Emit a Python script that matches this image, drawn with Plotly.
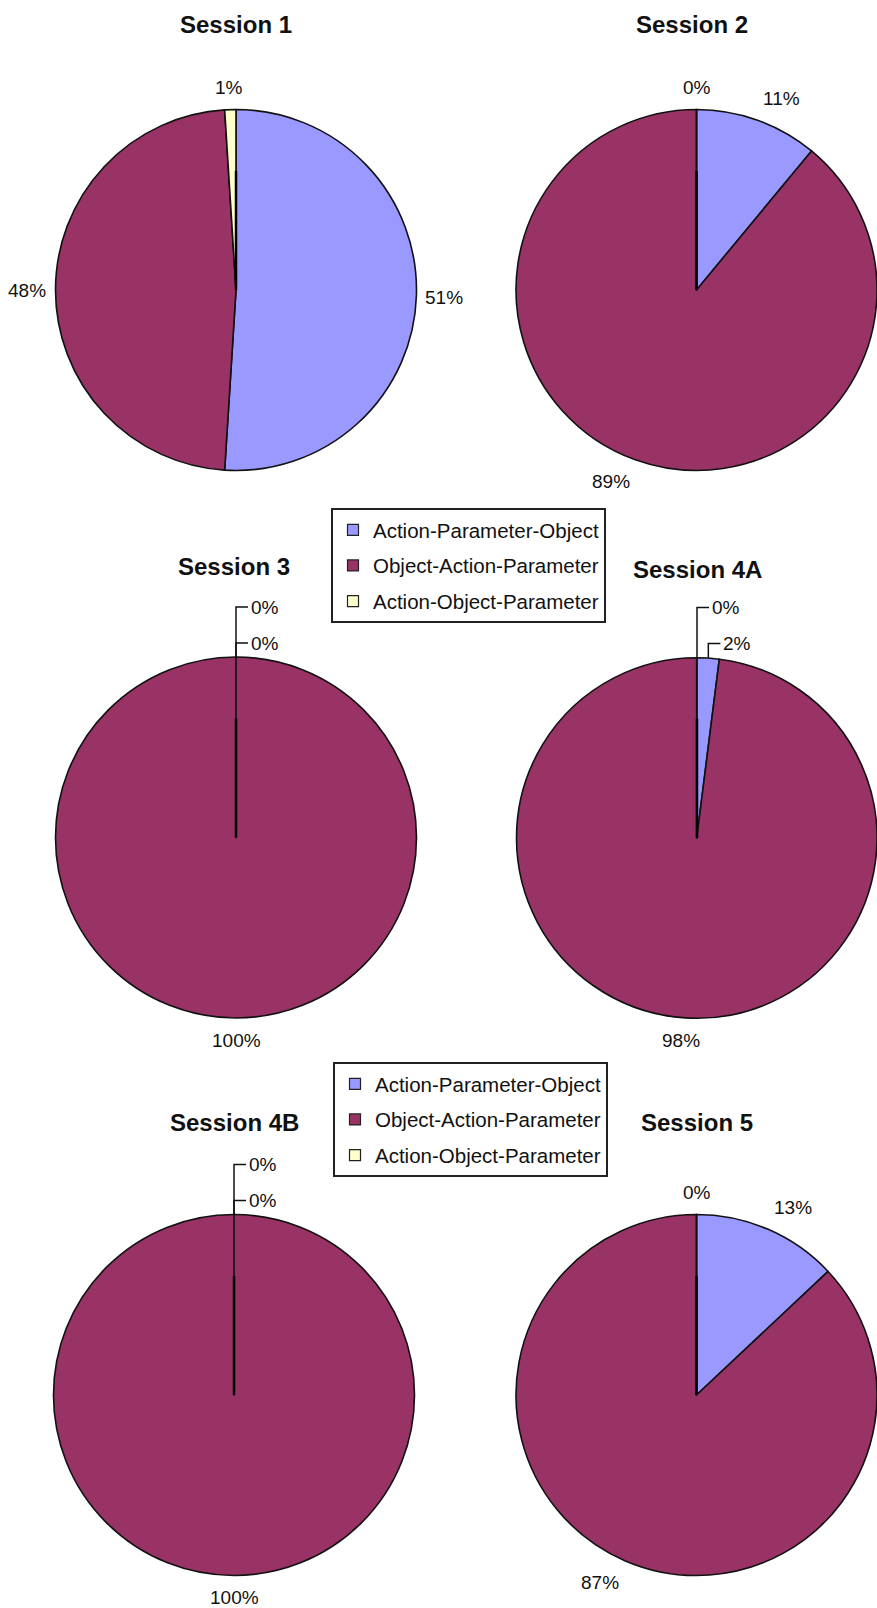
import math
import plotly.graph_objects as go

W, H = 877, 1608

sessions = ["Session 1", "Session 2", "Session 3", "Session 4A", "Session 4B", "Session 5"]
categories = ["Action-Parameter-Object", "Object-Action-Parameter", "Action-Object-Parameter"]
apo = [51, 11, 0, 2, 0, 13]
oap = [48, 89, 100, 98, 100, 87]
aop = [1, 0, 0, 0, 0, 0]
colors = ["#9999FF", "#993366", "#FFFFCC"]

# ---- layout geometry (pixels) ----
centers = [(236, 290), (696.5, 290), (236, 837.5), (697, 838), (234, 1395), (696.5, 1395)]
R = 180.5
title_pos = [(236, 24), (692, 24), (234, 566), (697, 569), (234, 1122), (697, 1122)]
use_leaders = [False, False, True, True, True, False]   # small slices labelled with leader lines
LABEL_SIZE = 19
FONT = "Liberation Sans, Arial, sans-serif"


def px(x):
    return x / W


def py(y):
    return 1 - y / H


def text_width(s):
    return sum(0.889 if ch == "%" else 0.556 for ch in s) * LABEL_SIZE


def clip(v):
    return max(-1.0, min(1.0, v))


fig = go.Figure()
annotations = []
shapes = []

for i, name in enumerate(sessions):
    vals = [apo[i], oap[i], aop[i]]
    total = sum(vals)
    cx, cy = centers[i]
    fig.add_trace(go.Pie(
        labels=categories,
        values=vals,
        textinfo="none",
        sort=False,
        direction="clockwise",
        rotation=0,
        marker=dict(colors=colors, line=dict(color="#111", width=1.6)),
        domain=dict(x=[px(cx - R), min(1, px(cx + R))], y=[py(cy + R), py(cy - R)]),
        showlegend=False,
        hoverinfo="label+percent",
        name=name,
    ))
    # title
    tx, ty = title_pos[i]
    annotations.append(dict(text=f"<b>{name}</b>", x=px(tx), y=py(ty), xref="paper", yref="paper",
                            showarrow=False, xanchor="center", yanchor="middle",
                            font=dict(family=FONT, size=24, color="#111")))
    # radial stub at 12 o'clock
    shapes.append(dict(type="line", xref="paper", yref="paper",
                       x0=px(cx), y0=py(cy), x1=px(cx), y1=py(cy - 0.66 * R),
                       line=dict(color="#000", width=2.5)))

    # data labels, placed from each slice's mid-angle
    cum = 0.0
    leader_items = []
    for k, v in enumerate(vals):
        theta = 2 * math.pi * (cum + v / 2) / total
        cum += v
        label = f"{round(100 * v / total)}%"
        s, c = math.sin(theta), math.cos(theta)
        if use_leaders[i] and v < 3:
            leader_items.append((k, label, cx + R * s, cy - R * c))
            continue
        Px, Py = cx + (R + 6) * s, cy - (R + 6) * c
        bw = text_width(label) / 2 + 3
        bh = 16
        lx = Px + bw * clip(3 * s)
        ly = Py - bh * clip(3 * c)
        annotations.append(dict(text=label, x=px(lx), y=py(ly), xref="paper", yref="paper",
                                showarrow=False, xanchor="center", yanchor="middle",
                                font=dict(family=FONT, size=LABEL_SIZE, color="#111")))
    # stacked labels with leader lines for tiny slices
    top = cy - R
    levels = [top - 50, top - 14]
    for (k, label, ex, ey), ly in zip(reversed(leader_items), levels):
        path = f"M {px(ex)},{py(ey)} L {px(ex)},{py(ly)} L {px(ex + 12)},{py(ly)}"
        shapes.append(dict(type="path", xref="paper", yref="paper", path=path,
                           line=dict(color="#111", width=1.5)))
        annotations.append(dict(text=label, x=px(ex + 13), y=py(ly), xref="paper", yref="paper",
                                showarrow=False, xanchor="left", yanchor="middle",
                                font=dict(family=FONT, size=LABEL_SIZE, color="#111")))

# legend entries (two legend boxes)
for lg in ["legend", "legend2"]:
    for k, (cat, col) in enumerate(zip(categories, colors)):
        fig.add_trace(go.Scatter(
            x=[None], y=[None], mode="markers", name=cat,
            marker=dict(symbol="square", size=11, color=col, line=dict(color="#222", width=1.2)),
            legend=lg, legendgroup=f"{lg}{k}", showlegend=True, hoverinfo="skip",
        ))

leg_common = dict(xanchor="left", yanchor="top", bordercolor="#222", borderwidth=2,
                  bgcolor="white", font=dict(family=FONT, size=20.5, color="#111"),
                  tracegroupgap=6, traceorder="grouped", itemclick=False, itemdoubleclick=False)

fig.update_layout(
    width=W, height=H,
    margin=dict(l=0, r=0, t=0, b=0),
    paper_bgcolor="white", plot_bgcolor="white",
    xaxis=dict(visible=False), yaxis=dict(visible=False),
    legend=dict(x=px(331), y=py(508), **leg_common),
    legend2=dict(x=px(333), y=py(1062), **leg_common),
    annotations=annotations,
    shapes=shapes,
)

fig.write_html("out.html")
